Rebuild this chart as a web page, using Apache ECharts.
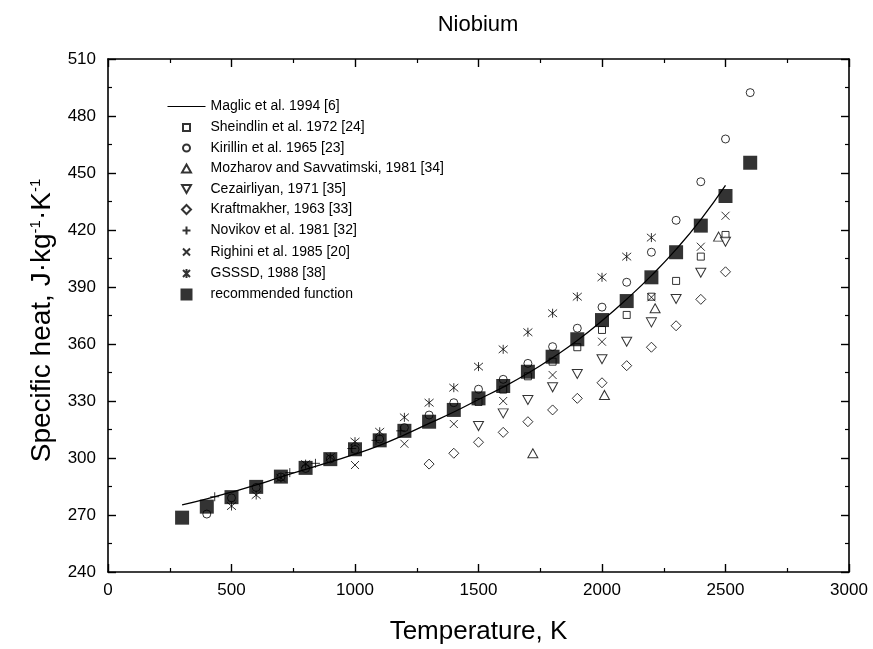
<!DOCTYPE html>
<html>
<head>
<meta charset="utf-8">
<script src="https://cdn.jsdelivr.net/npm/echarts@6/dist/echarts.min.js"></script>
<style>
html,body{margin:0;padding:0;background:#fff;}
#chart{width:873px;height:649px;}
</style>
</head>
<body>
<div id="chart"></div>
<script>
// ---- data ----
const xTicks = [0, 500, 1000, 1500, 2000, 2500, 3000];
const yTicks = [240, 270, 300, 330, 360, 390, 420, 450, 480, 510];

const maglicT = [300,400,500,600,700,800,900,1000,1100,1200,1300,1400,1500,1600,1700,1800,1900,2000,2100,2200,2300,2400,2500];
const maglicV = [275.3,278.5,282,285.8,290,294,298,302,306.7,312.2,318.2,324.2,330.8,337.3,344.6,352.8,361.8,372.2,383.6,396,409.8,425.5,443.5];

const sheindlinT = [1500,1600,1700,1800,1900,2000,2100,2200,2300,2400,2500];
const sheindlinV = [329.5,336,343,350.7,358.3,367.4,375.3,384.9,393.2,406,417.4];

const kirillinT = [400,500,600,700,800,900,1000,1100,1200,1300,1400,1500,1600,1700,1800,1900,2000,2100,2200,2300,2400,2500,2600];
const kirillinV = [270.5,279,284.5,290,294.5,299.5,304.5,310,316,322.6,329.1,336.2,341.4,349.8,358.6,368.3,379.4,392.5,408.3,425.1,445.4,467.9,492.3];

const mozharovT = [1720,2010,2215,2472];
const mozharovV = [302.5,333.2,378.8,416.5];

const cezairliyanT = [1500,1600,1700,1800,1900,2000,2100,2200,2300,2400,2500];
const cezairliyanV = [316.8,323.5,330.5,337.2,344.2,352,361.2,371.4,383.7,397.5,413.8];

const kraftmakherT = [1300,1400,1500,1600,1700,1800,1900,2000,2100,2200,2300,2400,2500];
const kraftmakherV = [296.8,302.5,308.3,313.5,319.1,325.3,331.4,339.6,348.6,358.3,369.6,383.5,398];

const novikovT = [432,736,840,987,1085,1185];
const novikovV = [279.6,292.3,297.2,305,309.3,314.3];

const righiniT = [1000,1200,1400,1600,1800,2000,2200,2400,2500];
const righiniV = [296.3,307.5,317.9,330,343.7,361.2,384.6,411.2,427.5];

const gsssdT = [500,600,700,800,900,1000,1100,1200,1300,1400,1500,1600,1700,1800,1900,2000,2100,2200];
const gsssdV = [274.7,280.5,289.5,296.8,300.5,308.6,313.8,321.4,329.1,337,348.1,357.2,366.2,376.2,384.9,395.1,406,416];

const recT = [300,400,500,600,700,800,900,1000,1100,1200,1300,1400,1500,1600,1700,1800,1900,2000,2100,2200,2300,2400,2500,2600];
const recV = [268.6,274.4,279.4,284.8,290.2,294.8,299.4,304.6,309.3,314.3,319.1,325.3,331.4,337.9,345.4,353.3,362.5,372.6,382.6,395.1,408.3,422.3,437.9,455.4];

const names = [
  'Maglic et al. 1994 [6]',
  'Sheindlin et al. 1972 [24]',
  'Kirillin et al. 1965 [23]',
  'Mozharov and Savvatimski, 1981 [34]',
  'Cezairliyan, 1971 [35]',
  'Kraftmakher, 1963 [33]',
  'Novikov et al. 1981 [32]',
  'Righini et al. 1985 [20]',
  'GSSSD, 1988 [38]',
  'recommended function'
];

function pairs(t, v) { return t.map((x, i) => [x, v[i]]); }

const FONT = '"Liberation Sans", Arial, Helvetica, sans-serif';
const hollow = { color: '#fff', borderColor: '#000', borderWidth: 1 };
const stroke = { color: 'none', borderColor: '#000', borderWidth: 1 };

const PLUS = 'path://M0,5L10,5M5,0L5,10';
const CROSS = 'path://M0,0L10,10M0,10L10,0';
const STAR = 'path://M0,0L10,10M0,10L10,0M5,-1L5,11';

// legend icons (12x12 box so sizes stay distinct)
const B = 'M0,0M12,12';
const legendIcons = [
  'path://M0,0M38,12M0,6L38,6',
  'path://' + B + 'M2.5,2.5L9.5,2.5L9.5,9.5L2.5,9.5Z',
  'path://' + B + 'M9.5,6A3.5,3.5,0,1,1,2.5,6A3.5,3.5,0,1,1,9.5,6Z',
  'path://' + B + 'M6,2L10.5,10L1.5,10Z',
  'path://' + B + 'M1.5,2L10.5,2L6,10Z',
  'path://' + B + 'M6,1.5L10.5,6L6,10.5L1.5,6Z',
  'path://' + B + 'M2,6L10,6M6,2L6,10',
  'path://' + B + 'M2.5,2.5L9.5,9.5M2.5,9.5L9.5,2.5',
  'path://' + B + 'M2.5,2.5L9.5,9.5M2.5,9.5L9.5,2.5M6,1.5L6,10.5',
  'path://M0,0L12,0L12,12L0,12Z'
];

const chart = echarts.init(document.getElementById('chart'), null, { renderer: 'canvas' });

const tickCommon = {
  axisLine: { show: true, onZero: false, lineStyle: { color: '#000', width: 1.6 } },
  axisTick: { show: true, inside: true, length: 8, lineStyle: { color: '#000', width: 1.4 } },
  minorTick: { show: true, splitNumber: 2, length: 4, lineStyle: { color: '#000', width: 1.2 } },
  splitLine: { show: false },
  minorSplitLine: { show: false }
};

chart.setOption({
  animation: false,
  backgroundColor: '#fff',
  title: {
    text: 'Niobium', left: 473, top: 9, textAlign: 'center',
    textStyle: { fontFamily: FONT, fontSize: 22, fontWeight: 'normal', color: '#000' }
  },
  grid: { left: 108, right: 24, top: 59, bottom: 77, containLabel: false, outerBoundsMode: 'none' },
  legend: {
    orient: 'vertical', left: 160, top: 93,
    itemWidth: 38, itemHeight: 12, itemGap: 4.5,
    selectedMode: false,
    textStyle: { fontFamily: FONT, fontSize: 14, color: '#000', lineHeight: 16 },
    data: names.map((n, i) => {
      const d = { name: n, icon: legendIcons[i] };
      if (i === 0) d.itemStyle = { color: 'none', borderColor: '#000', borderWidth: 1.2 };
      return d;
    })
  },
  xAxis: [
    Object.assign({
      type: 'value', min: xTicks[0], max: xTicks[xTicks.length - 1], interval: 500,
      name: 'Temperature, K', nameLocation: 'middle', nameGap: 47,
      nameTextStyle: { fontFamily: FONT, fontSize: 26, color: '#000' },
      axisLabel: { fontFamily: FONT, fontSize: 17, color: '#000', margin: 10, formatter: v => String(v) }
    }, tickCommon),
    Object.assign({
      type: 'value', position: 'top', min: xTicks[0], max: xTicks[xTicks.length - 1], interval: 500,
      axisLabel: { show: false }
    }, tickCommon)
  ],
  yAxis: [
    Object.assign({
      type: 'value', min: yTicks[0], max: yTicks[yTicks.length - 1], interval: 30,
      name: 'Specific heat, J·kg{s|-1}·K{s|-1}', nameLocation: 'middle', nameGap: 44,
      nameTextStyle: {
        fontFamily: FONT, fontSize: 28, color: '#000', padding: [0, 10, 0, 0],
        rich: { s: { fontFamily: FONT, fontSize: 15, color: '#000', verticalAlign: 'top', lineHeight: 15 } }
      },
      axisLabel: { fontFamily: FONT, fontSize: 17, color: '#000', margin: 12, formatter: v => String(v) }
    }, tickCommon),
    Object.assign({
      type: 'value', position: 'right', min: yTicks[0], max: yTicks[yTicks.length - 1], interval: 30,
      axisLabel: { show: false }
    }, tickCommon)
  ],
  series: [
    { name: names[0], type: 'line', data: pairs(maglicT, maglicV), smooth: true, symbol: 'none', showSymbol: false,
      lineStyle: { color: '#000', width: 1.3 }, itemStyle: { color: '#000' }, z: 3 },
    { name: names[1], type: 'scatter', data: pairs(sheindlinT, sheindlinV), symbol: 'rect', symbolSize: 7, itemStyle: hollow, z: 2 },
    { name: names[2], type: 'scatter', data: pairs(kirillinT, kirillinV), symbol: 'circle', symbolSize: 8, itemStyle: hollow, z: 2 },
    { name: names[3], type: 'scatter', data: pairs(mozharovT, mozharovV), symbol: 'triangle', symbolSize: [10, 9], itemStyle: hollow, z: 2 },
    { name: names[4], type: 'scatter', data: pairs(cezairliyanT, cezairliyanV), symbol: 'triangle', symbolRotate: 180, symbolSize: [10, 9], itemStyle: hollow, z: 2 },
    { name: names[5], type: 'scatter', data: pairs(kraftmakherT, kraftmakherV), symbol: 'diamond', symbolSize: [10, 10], itemStyle: hollow, z: 2 },
    { name: names[6], type: 'scatter', data: pairs(novikovT, novikovV), symbol: PLUS, symbolSize: 9, itemStyle: stroke, z: 2 },
    { name: names[7], type: 'scatter', data: pairs(righiniT, righiniV), symbol: CROSS, symbolSize: 8, itemStyle: stroke, z: 2 },
    { name: names[8], type: 'scatter', data: pairs(gsssdT, gsssdV), symbol: STAR, symbolSize: 9, itemStyle: stroke, z: 2 },
    { name: names[9], type: 'scatter', data: pairs(recT, recV), symbol: 'rect', symbolSize: 14, itemStyle: { color: '#000' }, z: 4 }
  ]
});
</script>
</body>
</html>
